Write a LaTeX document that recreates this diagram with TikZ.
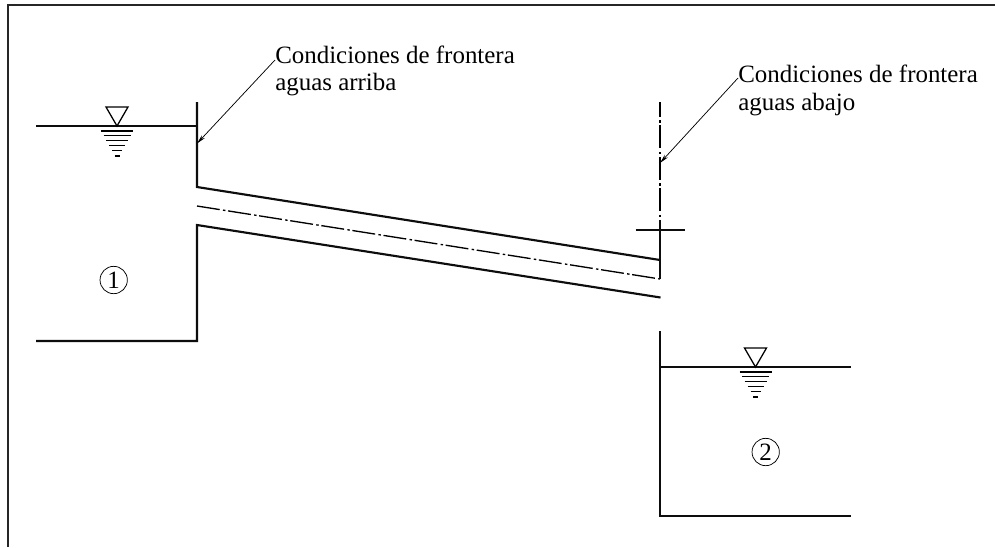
\documentclass[tikz,border=0pt]{standalone}
\usepackage{fontspec}
\setmainfont{Liberation Serif}
\usetikzlibrary{arrows.meta}
\tikzset{
  px/.style={x=0.75pt,y=-0.75pt},
  thick line/.style={line width=1.6pt,black!95},
  frame line/.style={line width=1.6pt,black!85},
  center line/.style={line width=1pt,dash pattern=on 17.25pt off 2.5pt on 1.85pt off 2pt},
  thin line/.style={line width=0.95pt},
  leader/.style={line width=0.55pt,-{Stealth[length=7pt,width=3pt]}},
  label text/.style={inner sep=0pt,anchor=base west,align=left,font=\fontsize{18.7}{20.6}\selectfont},
  circled/.style={circle,draw,line width=0.55pt,minimum size=20.5pt,inner sep=0pt,font=\fontsize{18.7}{18.7}\selectfont}
}
\newcommand{\watersym}[2]{%
  \draw[thin line,line join=miter] (#1,#2) -- (#1-11,#2-19) -- (#1+11,#2-19) -- cycle;
  \draw[thin line] (#1-16,#2+5) -- (#1+16,#2+5);
  \draw[thin line] (#1-13.5,#2+9.5) -- (#1+13.5,#2+9.5);
  \draw[thin line] (#1-11,#2+14.5) -- (#1+11,#2+14.5);
  \draw[thin line] (#1-8,#2+19.5) -- (#1+8,#2+19.5);
  \draw[thin line] (#1-5,#2+24.5) -- (#1+5,#2+24.5);
  \draw[thin line] (#1-2.5,#2+30) -- (#1+2.5,#2+30);
}
\begin{document}
\begin{tikzpicture}[px]
\useasboundingbox (0,0) rectangle (995,547);
\fill[white] (0,0) rectangle (995,547);
\draw[frame line] (8,547) -- (8,5.3) -- (995,5.3);
% left reservoir
\draw[thick line] (36,126) -- (197,126);
\draw[thick line] (197,102) -- (197,187) -- (660,260);
\draw[thick line] (36,341) -- (197,341) -- (197,225) -- (660.5,297.5);
\draw[center line] (197,206) -- (660,279);
\draw[center line,dash phase=6pt] (660,102) -- (660,225);
\draw[thick line] (660,279) -- (660,220);
\draw[thick line] (635.5,230.3) -- (685,230.3);
% right reservoir
\draw[thick line] (660,331) -- (660,516) -- (850.5,516);
\draw[thick line] (660,367) -- (850.5,367);
\watersym{117}{126}
\watersym{755.5}{367}
\node[circled] (one) at (113.7,280) {1};
\node[circled] (two) at (765.7,452) {2};
\node[label text] (up) at (275,63) {Condiciones de frontera};
\node[label text] (up2) at (275,90.5) {aguas arriba};
\node[label text] (down) at (738,82.7) {Condiciones de frontera};
\node[label text] (down2) at (738,110.5) {aguas abajo};
\coordinate (upStart) at (275,60);
\coordinate (downStart) at (738,78);
\coordinate (upEnd) at (197,143.5);
\coordinate (downEnd) at (660,163);
\draw[leader] (upStart) -- (upEnd);
\draw[leader] (downStart) -- (downEnd);
\end{tikzpicture}
\end{document}
